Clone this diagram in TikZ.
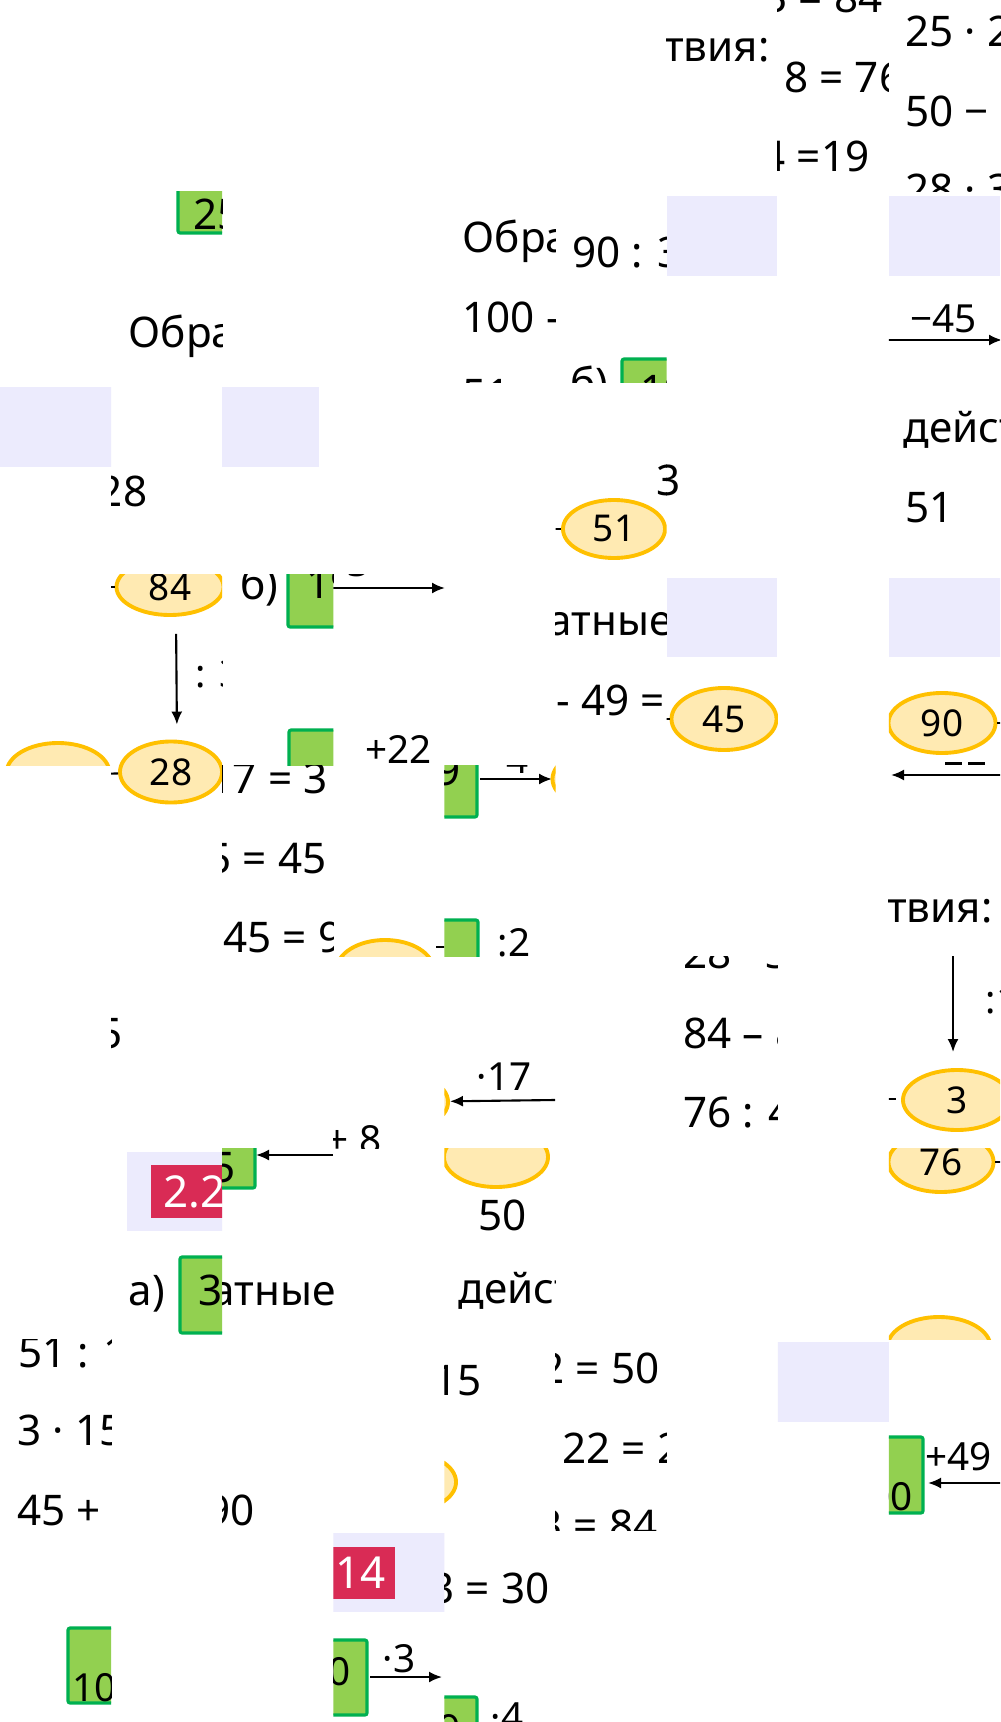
\documentclass[tikz,border=0pt]{standalone}
\usepackage{fontspec}
\setmainfont{Noto Sans}
\usetikzlibrary{shapes.geometric,arrows.meta,positioning}
\definecolor{ovalfill}{RGB}{255,234,178}
\definecolor{ovalline}{RGB}{255,192,0}
\definecolor{boxfill}{RGB}{146,208,80}
\definecolor{boxline}{RGB}{0,176,80}
\definecolor{lavfill}{RGB}{236,235,253}
\definecolor{tagred}{RGB}{217,43,85}
\newcommand{\tilepart}[3]{\begin{scope}\clip (#1*1000/9,#2*1722/9) rectangle ++(1000/9,1722/9);#3\end{scope}}

\begin{document}
\begin{tikzpicture}[x=0.01cm,y=-0.01cm,
	eq/.style={inner sep=0pt,font=\fontsize{12}{14}\selectfont},
	lab/.style={inner sep=0pt,font=\fontsize{11}{13}\selectfont},
	oval/.style={ellipse,draw=ovalline,fill=ovalfill,line width=1.1pt,inner sep=0pt,minimum width=1.05cm,minimum height=0.6cm,font=\fontsize{10.5}{12}\selectfont},
	gbox/.style={draw=boxline,fill=boxfill,line width=0.9pt,rounded corners=0.6pt},
	lav/.style={fill=lavfill},
	tag/.style={inner sep=0pt,text=white,font=\fontsize{12.5}{14}\selectfont\bfseries},
	link/.style={line width=0.6pt},
	bar/.style={line width=0.8pt},
	arr/.style={-{Latex[length=1.3mm,width=1.1mm]},line width=0.6pt}]
	\fill[white] (0,0) rectangle (1000,1722);
	\useasboundingbox (0,0) rectangle (1000,1722);
	% row 0
	\tilepart{6}{0}{\node[eq,anchor=base east] (r0a) at (770,62) {действия:};}
	\tilepart{7}{0}{
		\node[eq,anchor=base east] (r0b) at (883,13) {28 · 3 = 84};
		\node[eq,anchor=base west] (r0c) at (784,93) {8 = 76};
		\node[eq,anchor=base east] (r0d) at (870,172) {76 : 4 =19};}
	\tilepart{8}{0}{
		\node[eq,anchor=base west] (r0e) at (905,47) {25 · 2 = 50};
		\node[eq,anchor=base west] (r0f) at (905,127) {50 − 22 = 28};
		\node[eq,anchor=base west] (r0g) at (905,205) {28 · 3 = 84};}
	% row 1
	\tilepart{1}{1}{
		\draw[gbox] (178,150) rectangle (240,233);
		\node[eq,anchor=base west] (b25) at (193,230) {25};
		\node[eq,anchor=base west] (r1a) at (128,348) {Обратные};}
	\tilepart{4}{1}{
		\node[eq,anchor=base west] (r1b) at (462,253) {Обратные};
		\node[eq,anchor=base west] (r1c) at (462,333) {100 - 49 = 51};
		\node[eq,anchor=base west] (r1d) at (462,410) {51 - 45 = 6};}
	\tilepart{5}{1}{
		\node[eq,anchor=base west] (r1e) at (572,268) {90 : 3};
		\node[eq,anchor=base west] (r1f) at (570,399) {б)};
		\draw[gbox] (622,359) rectangle (690,440);
		\node[eq,anchor=base west] (b19) at (640,406) {19};}
	\tilepart{6}{1}{\fill[lav] (667,196) rectangle (777,276);}
	\tilepart{8}{1}{
		\fill[lav] (889,196) rectangle (1000,276);
		\node[lab,anchor=base west] (m45) at (910,333) {−45};
		\coordinate (m45a) at (880,340);
		\coordinate (m45b) at (1002,340);
		\draw[arr] (m45a) -- (m45b);}
	% row 2
	\tilepart{0}{2}{\fill[lav] (-10,387) rectangle (120,467);}
	\tilepart{1}{2}{\node[eq,anchor=base east] (r2a) at (148,507) {= 28};}
	\tilepart{2}{2}{\fill[lav] (222,387) rectangle (319,467);}
	\tilepart{5}{2}{
		\node[oval,minimum width=1.02cm,minimum height=0.58cm] (e51) at (614,529) {51};
		\coordinate (t51) at (480,529);
		\draw[link] (t51) -- (e51);
		\node[eq,anchor=base east] (r2b) at (681,495) {3};}
	\tilepart{6}{2}{\node[eq,anchor=base east] (r2c) at (681,495) {3};}
	\tilepart{8}{2}{
		\node[eq,anchor=base west] (r2d) at (903,443) {действия:};
		\node[eq,anchor=base west] (r2e) at (905,523) {51};}
	% row 3
	\tilepart{0}{3}{\node[oval,minimum width=1.03cm] (e0) at (58,773) {};}
	\tilepart{1}{3}{
		\node[oval,minimum width=1.07cm,minimum height=0.56cm] (e84) at (170,587) {84};
		\node[oval,minimum width=1.02cm,minimum height=0.61cm] (e28) at (171,772) {28};
		\coordinate (t84) at (60,587);
		\draw[link] (t84) -- (e84);
		\draw[arr,shorten <=0.17cm,shorten >=0.15cm] ([xshift=0.06cm]e84.south) -- ([xshift=0.06cm]e28.north);
		\node[lab,anchor=base west] (d3) at (195,687) {: 3};}
	\tilepart{2}{3}{
		\node[eq,anchor=base west] (r3a) at (240,600) {б)};
		\draw[gbox] (288,540) rectangle (345,627);
		\node[eq,anchor=base west] (b1) at (306,598) {19};
		\draw[gbox] (289,730) rectangle (345,800);}
	\tilepart{3}{3}{
		\coordinate (a3s) at (320,588);
		\coordinate (a3e) at (445,588);
		\draw[arr] (a3s) -- (a3e);
		\node[lab,anchor=base west] (l3) at (336,577) {·3};
		\node[lab,anchor=base west] (p22) at (365,763) {+22};}
	\tilepart{5}{3}{
		\node[eq,anchor=base east] (r3b) at (673,635) {Обратные};
		\node[eq,anchor=base west] (r3c) at (556,715) {- 49 =};}
	\tilepart{6}{3}{
		\fill[lav] (667,578) rectangle (777,657);
		\node[oval,minimum width=1.05cm,minimum height=0.62cm] (e45) at (724,719) {45};
		\coordinate (t45) at (640,719);
		\draw[link] (t45) -- (e45);}
	\tilepart{8}{3}{
		\fill[lav] (889,578) rectangle (1010,657);
		\node[oval,minimum width=1.07cm] (e90) at (942,723) {90};
		\coordinate (t90) at (1010,723);
		\draw[link] (e90) -- (t90);
		\draw[bar] (945,763.5) -- (962,763.5);
		\draw[bar] (968,763.5) -- (985,763.5);}
	% row 4
	\tilepart{1}{4}{
		\node[oval,minimum width=1.02cm,minimum height=0.61cm] (e28b) at (171,772) {28};
		\coordinate (t28) at (60,775);
		\draw[link] (t28) -- (e28b);}
	\tilepart{2}{4}{
		\node[eq,anchor=base east] (r4a) at (328,793) {51 : 17 = 3};
		\node[eq,anchor=base east] (r4b) at (327,873) {3 · 15 = 45};
		\node[eq,anchor=base west] (r4c) at (223,952) {45 = 90};}
	\tilepart{3}{4}{
		\node[oval,minimum width=0.97cm] (e0b) at (385,970) {};
		\coordinate (t0a) at (436,947);
		\coordinate (t0b) at (446,947);
		\draw[link] (t0a) -- (t0b);}
	\tilepart{4}{4}{
		\draw[gbox] (420,700) rectangle (477,817);
		\node[eq,anchor=base east] (b9) at (461,785) {19};
		\coordinate (a4s) at (480,779);
		\coordinate (a4e) at (552,779);
		\draw[arr] (a4s) -- (a4e);
		\node[lab,anchor=base west] (l4) at (495,773) {·4};
		\node[oval] (e76) at (605,779) {};
		\draw[gbox] (430,920) rectangle (478,1000);
		\node[lab,anchor=base west] (l2) at (497,956) {:2};}
	\tilepart{8}{4}{
		\coordinate (a8s) at (1003,775);
		\coordinate (a8e) at (891,775);
		\draw[arr] (a8s) -- (a8e);
		\node[eq,anchor=base east] (r4d) at (993,922) {действия:};}
	% row 5
	\tilepart{1}{5}{\node[eq,anchor=base east] (r5a) at (123,1048) {15};}
	\tilepart{3}{5}{\node[lab,anchor=base east] (p8) at (382,1153) {+ 8};}
	\tilepart{4}{5}{
		\node[oval,minimum width=1.06cm] (e5) at (395,1102) {};
		\coordinate (a5s) at (555,1100);
		\draw[arr] (a5s) -- (e5);
		\node[lab,anchor=base west] (m17) at (476,1090) {·17};}
	\tilepart{6}{5}{
		\node[eq,anchor=base west] (r5b) at (683,968) {28 · 3 = 84};
		\node[eq,anchor=base west] (r5c) at (683,1048) {84 – 8 = 76};
		\node[eq,anchor=base west] (r5d) at (683,1127) {76 : 4 = 19};}
	\tilepart{8}{5}{
		\coordinate (a9s) at (953,930);
		\coordinate (a9e) at (953,1052);
		\draw[arr] (a9s) -- (a9e);
		\node[lab,anchor=base west] (d17) at (985,1013) {:17};
		\node[oval,minimum width=1.08cm] (e3) at (957,1100) {3};
		\coordinate (t3a) at (860,1099);
		\coordinate (t3b) at (896,1099);
		\draw[link] (t3a) -- (t3b);}
	% row 6
	\tilepart{1}{6}{
		\fill[lav] (127,1152) rectangle (230,1231);
		\fill[tagred] (151,1165) rectangle (240,1218);
		\node[tag,anchor=base west] (n22) at (163,1207) {2.214};
		\node[eq,anchor=base west] (r6a) at (128,1305) {а)};
		\draw[gbox] (180,1257) rectangle (240,1333);
		\node[eq,anchor=base west] (b3) at (198,1305) {3};}
	\tilepart{2}{6}{
		\draw[gbox] (200,1100) rectangle (255,1188);
		\node[eq,anchor=base east] (b5) at (236,1182) {25};
		\coordinate (a6s) at (333,1155);
		\coordinate (a6e) at (256,1155);
		\draw[arr] (a6s) -- (a6e);
		\node[eq,anchor=base east] (r6b) at (336,1305) {Обратные};}
	\tilepart{3}{6}{\node[eq,anchor=base east] (r6c) at (336,1305) {Обратные};}
	\tilepart{4}{6}{
		\node[oval,minimum width=1.04cm] (e50) at (496,1157) {};
		\node[eq,anchor=base west] (r6d) at (478,1230) {50};
		\node[eq,anchor=base west] (r6e) at (458,1303) {действия:};}
	\tilepart{8}{6}{
		\node[oval] (e76b) at (941,1162) {76};
		\coordinate (t76) at (1010,1162);
		\draw[link] (e76b) -- (t76);
		\node[oval,minimum width=1.03cm] (e8) at (939,1347) {};}
	% row 7
	\tilepart{0}{7}{
		\node[eq,anchor=base west] (r7a) at (18,1367) {51 : 17 = 3};
		\node[eq,anchor=base west] (r7b) at (17,1445) {3 · 15 = 45};
		\node[eq,anchor=base west] (r7c) at (17,1525) {45 + 45 = 90};}
	\tilepart{2}{7}{\node[eq,anchor=base east] (r7d) at (255,1525) {90};}
	\tilepart{4}{7}{
		\node[eq,anchor=base east] (r7e) at (482,1395) {15};
		\node[oval,minimum width=1.04cm] (e7) at (404,1482) {};}
	\tilepart{5}{7}{
		\node[eq,anchor=base east] (r7f) at (660,1383) {25 · 2 = 50};
		\node[eq,anchor=base west] (r7g) at (562,1463) {22 = 28};
		\node[eq,anchor=base east] (r7h) at (658,1540) {28 · 3 = 84};}
	\tilepart{7}{7}{\fill[lav] (777,1342) rectangle (889,1422);}
	\tilepart{8}{7}{
		\draw[gbox] (850,1437) rectangle (923,1513);
		\node[lab,anchor=base east] (b100) at (913,1510) {100};
		\node[lab,anchor=base west] (p49) at (925,1470) {+49};
		\coordinate (a7s) at (1003,1483);
		\coordinate (a7e) at (928,1483);
		\draw[arr] (a7s) -- (a7e);}
	% row 8
	\tilepart{0}{8}{
		\draw[gbox] (68,1628) rectangle (125,1703);
		\node[lab,anchor=base west] (b10) at (72,1701) {10};}
	\tilepart{3}{8}{
		\fill[lav] (333,1533) rectangle (450,1612);
		\fill[tagred] (300,1547) rectangle (395,1599);
		\node[tag,anchor=base east] (n14) at (386,1588) {2.214};
		\draw[gbox] (300,1640) rectangle (367,1715);
		\node[lab,anchor=base east] (b10b) at (351,1685) {10};
		\coordinate (a10s) at (370,1677);
		\coordinate (a10e) at (442,1677);
		\draw[arr] (a10s) -- (a10e);
		\node[lab,anchor=base west] (m3) at (382,1672) {·3};}
	\tilepart{4}{8}{
		\node[eq,anchor=base east] (r8a) at (550,1603) {10 · 3 = 30};
		\draw[gbox] (420,1697) rectangle (477,1780);
		\node[lab,anchor=base east] (b19b) at (461,1742) {19};
		\node[lab,anchor=base west] (l48) at (490,1730) {·4};}
\end{tikzpicture}
\end{document}
